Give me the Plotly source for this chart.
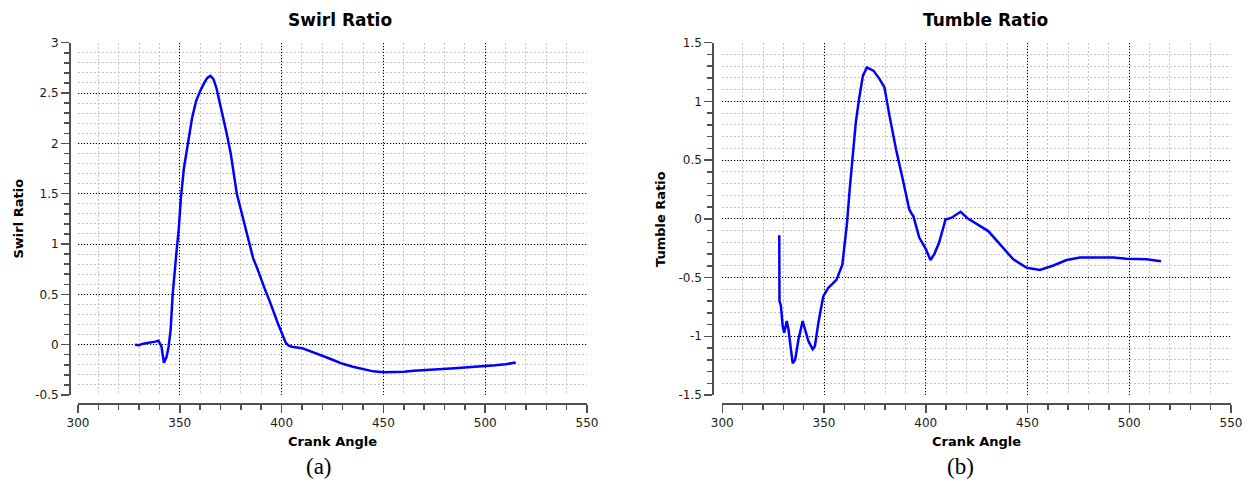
import plotly.graph_objects as go

W, H = 1250, 483

# ---------------- data ----------------
crank_swirl = [328, 330, 332, 334, 336, 338, 339.5, 341, 342.2, 343.5, 344.5, 345.5,
               346.5, 347.5, 348.5, 349.5, 350.5, 352, 354, 356, 358, 360, 362, 363.5,
               365, 366.5, 368, 369.5, 371, 373, 375, 378, 380, 382, 384, 386, 388, 390, 392,
               394, 396, 398, 400, 402, 403.5, 405, 410, 415, 420, 425, 430, 435, 440,
               445, 450, 455, 460, 465, 470, 475, 480, 485, 490, 495, 500, 505, 510, 515]
swirl_ratio = [0.0, -0.005, 0.01, 0.015, 0.02, 0.03, 0.04, -0.02, -0.18, -0.12, -0.02, 0.15,
               0.5, 0.75, 0.95, 1.15, 1.45, 1.75, 2.0, 2.25, 2.42, 2.52, 2.6, 2.65,
               2.67, 2.64, 2.55, 2.42, 2.28, 2.1, 1.9, 1.5, 1.34, 1.18, 1.0, 0.86, 0.76, 0.64, 0.54,
               0.44, 0.32, 0.22, 0.12, 0.02, -0.01, -0.02, -0.035, -0.07, -0.11, -0.15, -0.19, -0.22, -0.245,
               -0.265, -0.275, -0.273, -0.268, -0.26, -0.252, -0.245, -0.24, -0.235, -0.228, -0.222, -0.215, -0.205, -0.195, -0.178]

crank_tumble = [328.0, 328.1, 328.8, 329.7, 330.4, 331.7, 332.5, 333.6, 334.6, 335.8, 337.4,
                339.5, 340.6, 342.3, 344.4, 345.5, 347.2, 349.6, 352.0, 356.1, 359.0, 361.3,
                362.6, 363.9, 365.6, 367.2, 369.1, 371.1, 374.4, 377.3, 379.7, 382.2, 385.4,
                388.7, 391.9, 393.3, 393.9, 396.8, 400.1, 402.3, 404.2, 406.6, 409.7, 412.7,
                417.1, 420.9, 426.6, 430.7, 436.5, 443.0, 449.6, 456.1, 462.7, 469.2, 475.8,
                485.6, 492.1, 498.7, 508.5, 515.6]
tumble_ratio = [-0.14, -0.70, -0.74, -0.915, -0.97, -0.87, -0.94, -1.11, -1.23, -1.20, -1.03,
                -0.87, -0.93, -1.04, -1.11, -1.085, -0.886, -0.66, -0.59, -0.52, -0.39, -0.034,
                0.25, 0.53, 0.82, 1.02, 1.22, 1.29, 1.26, 1.19, 1.12, 0.875, 0.59,
                0.335, 0.08, 0.037, 0.023, -0.16, -0.26, -0.35, -0.30, -0.20, -0.005, 0.01,
                0.06, 0.0, -0.062, -0.104, -0.218, -0.345, -0.416, -0.436, -0.397, -0.351, -0.329,
                -0.329, -0.33, -0.34, -0.345, -0.362]

x_ticks = [300, 350, 400, 450, 500, 550]
x_tick_text = ["300", "350", "400", "450", "500", "550"]
swirl_ticks = [-0.5, 0, 0.5, 1, 1.5, 2, 2.5, 3]
swirl_tick_text = ["-0.5", "0", "0.5", "1", "1.5", "2", "2.5", "3"]
tumble_ticks = [-1.5, -1, -0.5, 0, 0.5, 1, 1.5]
tumble_tick_text = ["-1.5", "-1", "-0.5", "0", "0.5", "1", "1.5"]

titles = ["Swirl Ratio", "Tumble Ratio"]
y_titles = ["Swirl Ratio", "Tumble Ratio"]
x_title = "Crank Angle"
captions = ["(a)", "(b)"]


def px(x):
    return x / W


def py(y):
    return 1 - y / H


AX_COLOR = "#505050"
TICK_FONT = dict(family="DejaVu Sans", size=12, color="#1a1a1a")


def xaxis_cfg(d0, d1, pos):
    return dict(
        domain=[px(d0), px(d1)], anchor="free", position=py(pos), automargin=False,
        range=[300, 550], tickvals=x_ticks, ticktext=x_tick_text,
        showline=True, linecolor=AX_COLOR, linewidth=2,
        ticks="outside", ticklen=8, tickwidth=1.5, tickcolor=AX_COLOR,
        tickfont=TICK_FONT, zeroline=False,
        showgrid=True, gridcolor="#000000", gridwidth=1, griddash="1px,2px",
        minor=dict(dtick=10, tick0=300, ticks="outside", ticklen=5, tickwidth=1.5,
                   tickcolor=AX_COLOR, showgrid=True, gridcolor="#c4c4c4",
                   gridwidth=1, griddash="2px,2px"),
    )


def yaxis_cfg(rng, vals, text, pos):
    return dict(
        domain=[py(395), py(42.7)], anchor="free", position=px(pos), automargin=False,
        range=rng, tickvals=vals, ticktext=text,
        showline=True, linecolor=AX_COLOR, linewidth=2,
        ticks="outside", ticklen=8, tickwidth=1.5, tickcolor=AX_COLOR,
        tickfont=TICK_FONT, zeroline=False,
        showgrid=True, gridcolor="#000000", gridwidth=1, griddash="1px,2px",
        minor=dict(dtick=0.1, tick0=0, ticks="outside", ticklen=5, tickwidth=1.5,
                   tickcolor=AX_COLOR, showgrid=True, gridcolor="#c4c4c4",
                   gridwidth=1, griddash="2px,2px"),
    )


fig = go.Figure()
fig.add_trace(go.Scatter(x=crank_swirl, y=swirl_ratio, mode="lines",
                         line=dict(color="#0000ff", width=2.5),
                         xaxis="x", yaxis="y", showlegend=False))
fig.add_trace(go.Scatter(x=crank_tumble, y=tumble_ratio, mode="lines",
                         line=dict(color="#0000ff", width=2.5),
                         xaxis="x2", yaxis="y2", showlegend=False))

annotations = []
title_font = dict(family="DejaVu Sans", size=17, color="#000000")
ax_title_font = dict(family="DejaVu Sans", size=13, color="#000000")
cap_font = dict(family="Liberation Serif", size=23, color="#000000")

for t, cx in zip(titles, [340, 986]):
    annotations.append(dict(text="<b>%s</b>" % t, x=px(cx), y=py(20), xref="paper", yref="paper",
                            showarrow=False, font=title_font, xanchor="center", yanchor="middle"))
for cx in [332.5, 976.5]:
    annotations.append(dict(text="<b>%s</b>" % x_title, x=px(cx), y=py(441), xref="paper", yref="paper",
                            showarrow=False, font=ax_title_font, xanchor="center", yanchor="middle"))
for t, cx in zip(y_titles, [17.5, 660]):
    annotations.append(dict(text="<b>%s</b>" % t, x=px(cx), y=py(219), xref="paper", yref="paper",
                            showarrow=False, font=ax_title_font, xanchor="center", yanchor="middle",
                            textangle=-90))
for t, cx in zip(captions, [318.5, 960.5]):
    annotations.append(dict(text=t, x=px(cx), y=py(466), xref="paper", yref="paper",
                            showarrow=False, font=cap_font, xanchor="center", yanchor="middle"))

fig.update_layout(
    width=W, height=H,
    margin=dict(l=0, r=0, t=0, b=0, autoexpand=False),
    paper_bgcolor="white", plot_bgcolor="white",
    xaxis=xaxis_cfg(78, 587, 404),
    yaxis=yaxis_cfg([-0.5, 3], swirl_ticks, swirl_tick_text, 70),
    xaxis2=xaxis_cfg(722.3, 1231, 404),
    yaxis2=yaxis_cfg([-1.5, 1.5], tumble_ticks, tumble_tick_text, 713.3),
    annotations=annotations,
    showlegend=False,
    hovermode=False,
)

fig.write_html(
    "out.html",
    config={"displayModeBar": False, "staticPlot": True},
    post_script="document.body.style.margin='0';document.body.style.padding='0';"
                "document.body.style.overflow='hidden';",
)
